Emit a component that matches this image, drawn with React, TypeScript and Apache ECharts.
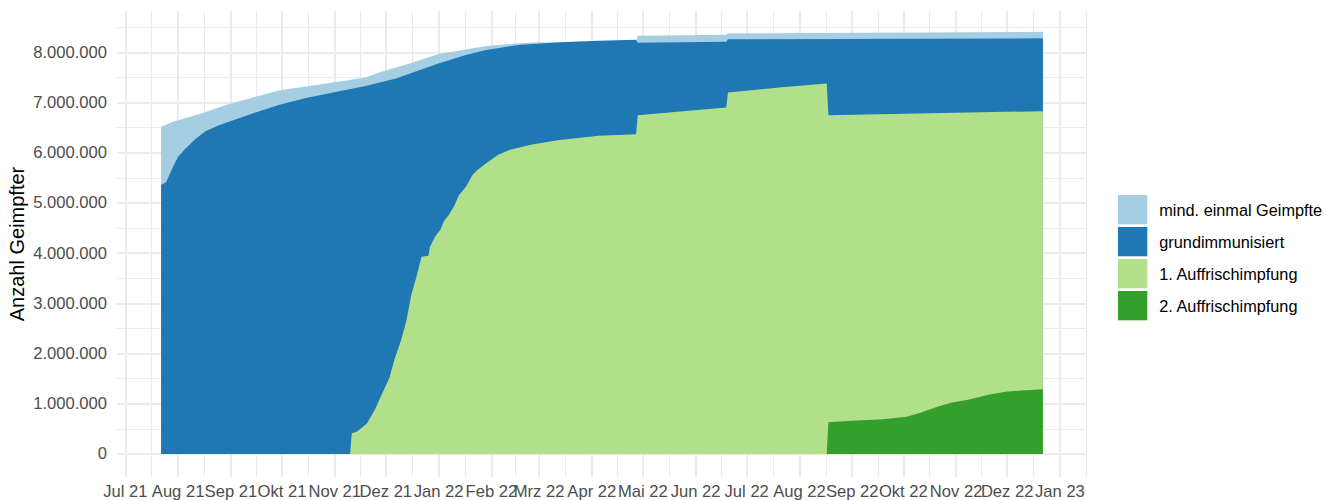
import React, { useEffect, useRef } from "react";
import * as echarts from "echarts";

// ---- Data ----
const seriesNames = [
  "mind. einmal Geimpfte",
  "grundimmunisiert",
  "1. Auffrischimpfung",
  "2. Auffrischimpfung",
];

const seriesColors = ["#A6CEE3", "#1F78B4", "#B2DF8A", "#33A02C"];

const mindEinmal: [string, number][] = [
  ["2021-07-22", 6520000],
  ["2021-07-29", 6620000],
  ["2021-08-15", 6790000],
  ["2021-08-31", 6970000],
  ["2021-09-16", 7120000],
  ["2021-09-29", 7240000],
  ["2021-10-15", 7320000],
  ["2021-10-31", 7400000],
  ["2021-11-19", 7500000],
  ["2021-11-29", 7620000],
  ["2021-12-15", 7780000],
  ["2022-01-01", 7970000],
  ["2022-01-17", 8060000],
  ["2022-01-29", 8130000],
  ["2022-02-17", 8180000],
  ["2022-03-01", 8200000],
  ["2022-03-12", 8190000],
  ["2022-04-27", 8200000],
  ["2022-04-28", 8330000],
  ["2022-06-19", 8350000],
  ["2022-06-20", 8380000],
  ["2022-12-22", 8410000],
];

const grundimmunisiert: [string, number][] = [
  ["2021-07-22", 5360000],
  ["2021-07-25", 5420000],
  ["2021-07-29", 5720000],
  ["2021-08-01", 5920000],
  ["2021-08-05", 6070000],
  ["2021-08-11", 6270000],
  ["2021-08-17", 6430000],
  ["2021-08-25", 6550000],
  ["2021-09-04", 6670000],
  ["2021-09-16", 6810000],
  ["2021-09-29", 6950000],
  ["2021-10-15", 7090000],
  ["2021-10-31", 7200000],
  ["2021-11-19", 7330000],
  ["2021-12-07", 7480000],
  ["2021-12-21", 7650000],
  ["2022-01-01", 7780000],
  ["2022-01-17", 7950000],
  ["2022-01-29", 8050000],
  ["2022-02-17", 8150000],
  ["2022-03-13", 8200000],
  ["2022-04-05", 8230000],
  ["2022-04-27", 8250000],
  ["2022-04-28", 8190000],
  ["2022-06-19", 8210000],
  ["2022-06-20", 8260000],
  ["2022-12-22", 8280000],
];

const auffrischung1: [string, number][] = [
  ["2021-11-10", 0],
  ["2021-11-11", 410000],
  ["2021-11-14", 440000],
  ["2021-11-15", 470000],
  ["2021-11-20", 610000],
  ["2021-11-25", 910000],
  ["2021-11-28", 1140000],
  ["2021-12-03", 1510000],
  ["2021-12-06", 1870000],
  ["2021-12-10", 2270000],
  ["2021-12-13", 2640000],
  ["2021-12-16", 3170000],
  ["2021-12-19", 3530000],
  ["2021-12-22", 3930000],
  ["2021-12-26", 3950000],
  ["2021-12-27", 4130000],
  ["2021-12-30", 4330000],
  ["2022-01-02", 4460000],
  ["2022-01-04", 4630000],
  ["2022-01-07", 4760000],
  ["2022-01-10", 4930000],
  ["2022-01-13", 5160000],
  ["2022-01-17", 5320000],
  ["2022-01-21", 5560000],
  ["2022-01-24", 5660000],
  ["2022-01-29", 5790000],
  ["2022-02-05", 5960000],
  ["2022-02-12", 6060000],
  ["2022-02-24", 6160000],
  ["2022-03-12", 6250000],
  ["2022-04-05", 6340000],
  ["2022-04-27", 6370000],
  ["2022-04-28", 6750000],
  ["2022-06-19", 6900000],
  ["2022-06-20", 7200000],
  ["2022-07-20", 7300000],
  ["2022-08-17", 7380000],
  ["2022-08-18", 6750000],
  ["2022-12-22", 6830000],
];

const auffrischung2: [string, number][] = [
  ["2022-08-17", 0],
  ["2022-08-18", 630000],
  ["2022-09-01", 660000],
  ["2022-09-19", 690000],
  ["2022-10-03", 740000],
  ["2022-10-11", 820000],
  ["2022-10-21", 940000],
  ["2022-10-29", 1020000],
  ["2022-11-08", 1080000],
  ["2022-11-20", 1180000],
  ["2022-11-30", 1240000],
  ["2022-12-12", 1270000],
  ["2022-12-22", 1290000],
];

const monthNames = ["Jan", "Feb", "Mrz", "Apr", "Mai", "Jun", "Jul", "Aug", "Sep", "Okt", "Nov", "Dez"];
const monthTickDates = [
  "2021-07-01", "2021-08-01", "2021-09-01", "2021-10-01", "2021-11-01", "2021-12-01",
  "2022-01-01", "2022-02-01", "2022-03-01", "2022-04-01", "2022-05-01", "2022-06-01",
  "2022-07-01", "2022-08-01", "2022-09-01", "2022-10-01", "2022-11-01", "2022-12-01",
  "2023-01-01", "2023-02-01",
];
const yTickValues = [0, 1000000, 2000000, 3000000, 4000000, 5000000, 6000000, 7000000, 8000000];
const yMinorValues = [500000, 1500000, 2500000, 3500000, 4500000, 5500000, 6500000, 7500000, 8500000];
const yTitle = "Anzahl Geimpfter";

// ---- helpers ----
const ts = (d: string) => {
  const [y, m, dd] = d.split("-").map(Number);
  return Date.UTC(y, m - 1, dd);
};
const fmtThousands = (v: number) => String(Math.round(v)).replace(/\B(?=(\d{3})+(?!\d))/g, ".");
const fmtMonth = (v: number) => {
  const d = new Date(v);
  return monthNames[d.getUTCMonth()] + " " + String(d.getUTCFullYear()).slice(2);
};

const FONT = "'Liberation Sans', Arial, Helvetica, sans-serif";

export default function App() {
  const ref = useRef<HTMLDivElement>(null);

  useEffect(() => {
    if (!ref.current) return;
    const chart = echarts.init(ref.current, null, { renderer: "svg" });

    const allSeries = [mindEinmal, grundimmunisiert, auffrischung1, auffrischung2];
    const allTs = allSeries.flatMap((s) => s.map((p) => ts(p[0])));
    const dataMin = Math.min(...allTs);
    const dataMax = Math.max(...allTs);
    const pad = (dataMax - dataMin) * 0.05;
    const xMin = dataMin - pad;
    const xMax = dataMax + pad;

    const majorX = monthTickDates.map(ts);
    const minorX: number[] = [];
    for (let i = 0; i < majorX.length - 1; i++) minorX.push((majorX[i] + majorX[i + 1]) / 2);

    const gridColor = "#EBEBEB";

    chart.setOption({
      animation: false,
      backgroundColor: "#FFFFFF",
      textStyle: { fontFamily: FONT },
      grid: { left: 117, right: 239, top: 11, bottom: 23, outerBoundsMode: "none", containLabel: false },
      legend: {
        orient: "vertical",
        left: 1118,
        top: 195,
        itemWidth: 29.3,
        itemHeight: 29.3,
        itemGap: 2.7,
        padding: 0,
        icon: "rect",
        itemStyle: { borderWidth: 0 },
        textStyle: { fontSize: 16.3, color: "#000000", fontFamily: FONT, padding: [0, 0, 0, 7] },
        data: seriesNames,
        selectedMode: false,
      },
      xAxis: [
        {
          type: "value",
          min: xMin,
          max: xMax,
          axisLine: { show: false },
          axisTick: { show: false, customValues: majorX },
          axisLabel: {
            customValues: majorX,
            formatter: (v: number) => fmtMonth(v),
            fontSize: 16.6,
            color: "#4D4D4D",
            margin: 6,
            fontFamily: FONT,
          },
          splitLine: { show: true, lineStyle: { color: gridColor, width: 2 } },
        },
        {
          type: "value",
          position: "top",
          min: xMin,
          max: xMax,
          axisLine: { show: false },
          axisTick: { show: false, customValues: minorX },
          axisLabel: { show: false },
          splitLine: { show: true, lineStyle: { color: gridColor, width: 1 } },
        },
      ],
      yAxis: [
        {
          type: "value",
          min: -460000,
          max: 8825000,
          name: yTitle,
          nameLocation: "middle",
          nameRotate: 90,
          nameGap: 90,
          nameMoveOverlap: false,
          nameTextStyle: { fontSize: 20, color: "#000000", fontFamily: FONT },
          axisLine: { show: false },
          axisTick: { show: false, customValues: yTickValues },
          axisLabel: {
            customValues: yTickValues,
            formatter: (v: number) => fmtThousands(v),
            fontSize: 16.6,
            color: "#4D4D4D",
            margin: 10,
            fontFamily: FONT,
          },
          splitLine: { show: true, lineStyle: { color: gridColor, width: 2 } },
        },
        {
          type: "value",
          position: "right",
          min: -460000,
          max: 8825000,
          axisLine: { show: false },
          axisTick: { show: false, customValues: yMinorValues },
          axisLabel: { show: false },
          splitLine: { show: true, lineStyle: { color: gridColor, width: 1 } },
        },
      ],
      series: allSeries.map((s, i) => ({
        name: seriesNames[i],
        type: "line",
        xAxisIndex: 0,
        yAxisIndex: 0,
        data: s.map((p) => [ts(p[0]), p[1]]),
        showSymbol: false,
        symbol: "none",
        color: seriesColors[i],
        itemStyle: { color: seriesColors[i] },
        lineStyle: { width: 0, color: seriesColors[i] },
        areaStyle: { color: seriesColors[i], opacity: 1 },
        silent: true,
        z: 2 + i,
      })),
    });

    return () => chart.dispose();
  }, []);

  return (
    <div
      ref={ref}
      style={{ position: "fixed", left: 0, top: 0, width: 1326, height: 500, background: "#fff" }}
    />
  );
}
